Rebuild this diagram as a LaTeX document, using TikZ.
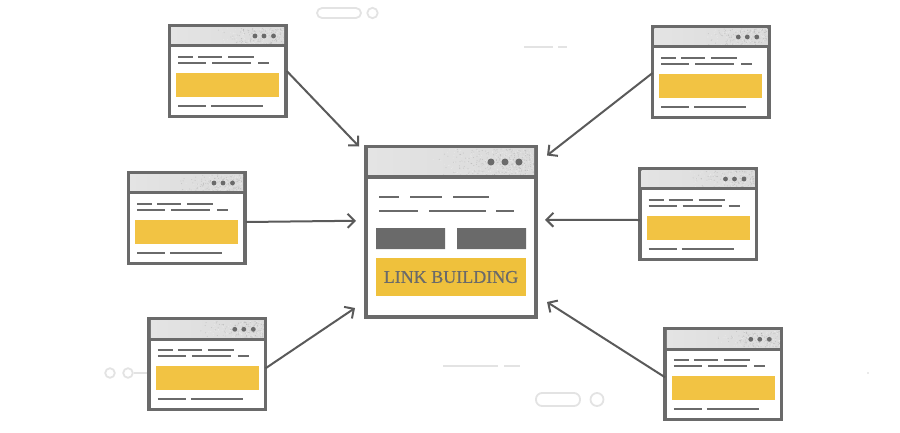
\documentclass[tikz,border=0pt]{standalone}
\usepackage{fontspec}
\setmainfont{Liberation Serif}
\newfontfamily\lblfont[FakeBold=0.5]{Liberation Serif}
\usetikzlibrary{calc,arrows.meta}
\definecolor{frameC}{HTML}{6A6A6A}
\definecolor{yel}{HTML}{F2C343}
\definecolor{yelhub}{HTML}{EFC13C}
\definecolor{faint}{HTML}{E3E3E3}
\definecolor{headL}{HTML}{E4E4E4}
\definecolor{headR}{HTML}{DADADA}
\tikzset{
  x=1pt,y=-1pt,
  frameb/.style={draw=frameC,line width=3.5pt,fill=white,rectangle,inner sep=0pt,outer sep=0pt,anchor=north west},
  hubb/.style={frameb,line width=4pt},
  txtline/.style={draw=frameC,line width=1.9pt},
  bigline/.style={draw=frameC,line width=2.6pt},
  arr/.style={draw=frameC!85!black,line width=2pt,-{Straight Barb[length=7pt,width=14pt,line width=2pt]}},
  deco/.style={draw=faint,line width=1.8pt,fill=white},
  decoline/.style={draw=faint,line width=1.6pt},
}
% stipple: dots get denser to the right of a header band
\newcommand{\stipple}[5]{% x0, y0, width, height, count
  \foreach \i in {1,...,#5}{%
    \pgfmathsetmacro{\sx}{#1+#3*sqrt(rnd)}%
    \pgfmathsetmacro{\sy}{#2+#4*rnd}%
    \pgfmathsetmacro{\sc}{rnd>0.5?45:0}%
    \fill[black!\sc!white,opacity=.3] (\sx,\sy) circle (0.55);
  }}
\newcommand{\smallwin}[3]{%
  \begin{scope}[shift={(#2,#3)}]
    \node[frameb,minimum width=116.5pt,minimum height=90.5pt] (#1) at (1.25,0.75) {};
    \shade[left color=headL,right color=headR] (3,2.5) rectangle (116,19.5);
    \stipple{50}{3}{66}{16}{240}
    \draw[draw=frameC,line width=3.2pt] (0,20.8) -- (118.5,20.8);
    \fill[frameC] (87,11) circle (2.4) (96,11) circle (2.4) (105.5,11) circle (2.4);
    \draw[txtline] (10,32)--(25,32) (30,32)--(54,32) (60,32)--(86,32);
    \draw[txtline] (10,38)--(38,38) (44,38)--(83,38) (90,38)--(101,38);
    \fill[yel] (8,48) rectangle (111,72);
    \draw[txtline] (10,81)--(38,81) (43,81)--(95,81);
  \end{scope}}
\begin{document}
\begin{tikzpicture}
\useasboundingbox (0,0) rectangle (900,432);
\pgfmathsetseed{7}
% faint background decoration
\draw[deco,rounded corners=5pt] (317,8) rectangle (361,18);
\draw[deco] (372.5,13) circle (5.2);
\draw[decoline] (524,47)--(553,47) (558,47)--(567,47);
\draw[deco] (110,373) circle (4.8) (128,373) circle (4.8);
\draw[decoline] (134,373)--(147,373);
\draw[decoline] (443,366)--(498,366) (504,366)--(520,366);
\draw[deco,rounded corners=6pt] (536,393) rectangle (580,406);
\draw[deco] (597,399.5) circle (6.5);
\fill[faint] (868,373) circle (1.2);
% windows
\smallwin{tl}{168}{25}
\smallwin{ml}{127}{172}
\smallwin{bl}{147.8}{318.3}
\smallwin{tr}{651.3}{26}
\smallwin{mr}{638.5}{168}
\smallwin{br}{663.8}{328.3}
% hub
\node[hubb,minimum width=170pt,minimum height=170.5pt] (hub) at (366,146.5) {};
\shade[left color=headL,right color=headR] (368,148.5) rectangle (534,175.5);
\stipple{430}{149}{104}{26}{460}
\draw[draw=frameC,line width=3.5pt] (365,177) -- (537,177);
\fill[frameC] (491,162) circle (3.5) (505,162) circle (3.5) (519,162) circle (3.5);
\draw[bigline] (379,197)--(399,197) (410,197)--(442,197) (453,197)--(489,197);
\draw[bigline] (379,211)--(418,211) (429,211)--(486,211) (496,211)--(514,211);
\fill[frameC] (376,228) rectangle (445,249) (457,228) rectangle (526,249);
\fill[yelhub] (376,258) rectangle (526,296);
\node[text=frameC,font=\lblfont\fontsize{18}{20}\selectfont,inner sep=0pt] (lbl) at (451,277) {LINK BUILDING};
% connectors
\draw[arr] ([xshift=1pt]tl.east) -- ([xshift=-7pt]hub.north west);
\draw[arr] ([xshift=1pt,yshift=-4pt]ml.east) -- ([xshift=-10pt,yshift=11pt]hub.west);
\draw[arr] ([yshift=-4pt]bl.east) -- ([xshift=-11pt,yshift=9pt]hub.south west);
\draw[arr] ([yshift=-1pt]tr.west) -- ([xshift=11pt,yshift=-9pt]hub.north east);
\draw[arr] ([yshift=-6pt]mr.west) -- ([xshift=9pt,yshift=12pt]hub.east);
\draw[arr] ([yshift=-3pt]br.west) -- ([xshift=11pt,yshift=15pt]hub.south east);
\end{tikzpicture}
\end{document}
